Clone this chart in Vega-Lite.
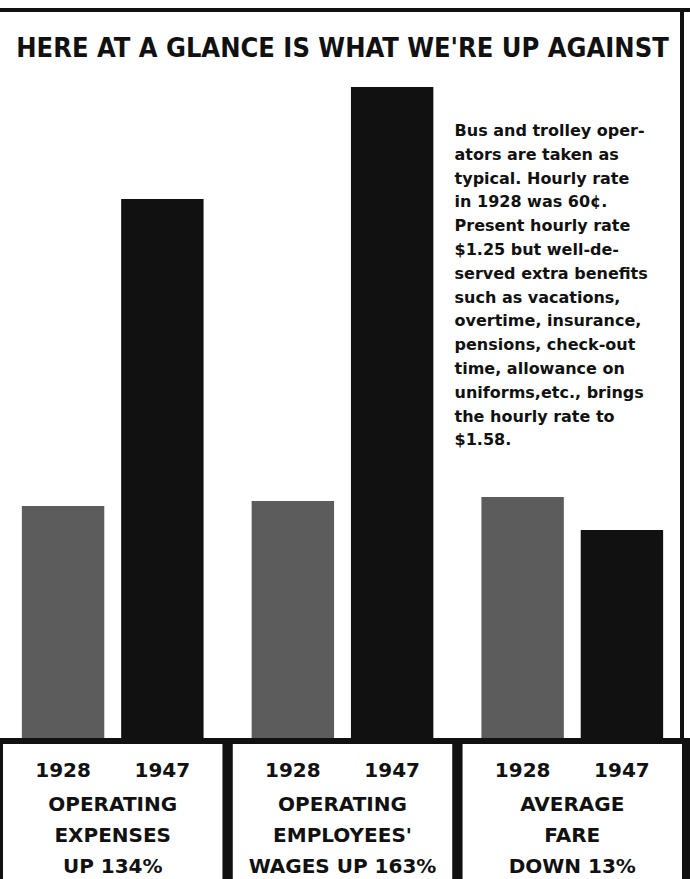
{
  "$schema": "https://vega.github.io/schema/vega-lite/v6.json",
  "width": 690,
  "height": 879,
  "autosize": {"type": "none"},
  "padding": 0,
  "background": "white",
  "config": {"view": {"stroke": null}},
  "datasets": {
    "bars": [
      {"group": "Operating expenses", "year": "1928", "value": 232},
      {"group": "Operating expenses", "year": "1947", "value": 539},
      {"group": "Operating employees' wages", "year": "1928", "value": 237},
      {"group": "Operating employees' wages", "year": "1947", "value": 651},
      {"group": "Average fare", "year": "1928", "value": 241},
      {"group": "Average fare", "year": "1947", "value": 208}
    ],
    "boxes": [
      {"group": "Operating expenses", "lines": ["OPERATING", "EXPENSES", "UP 134%"]},
      {"group": "Operating employees' wages", "lines": ["OPERATING", "EMPLOYEES'", "WAGES UP 163%"]},
      {"group": "Average fare", "lines": ["AVERAGE", "FARE", "DOWN 13%"]}
    ],
    "title": [{"text": "HERE AT A GLANCE IS WHAT WE'RE UP AGAINST"}],
    "note": [{"lines": [
      "Bus and trolley oper-",
      "ators are taken as",
      "typical. Hourly rate",
      "in 1928 was 60¢.",
      "Present hourly rate",
      "$1.25 but well-de-",
      "served extra benefits",
      "such as vacations,",
      "overtime, insurance,",
      "pensions, check-out",
      "time, allowance on",
      "uniforms,etc., brings",
      "the hourly rate to",
      "$1.58."
    ]}]
  },
  "layer": [
    {
      "data": {"name": "title"},
      "mark": {"type": "rect", "color": "#111111"},
      "encoding": {
        "y": {"datum": 0, "type": "quantitative", "scale": {"domain": [-141, 738], "nice": false, "zero": false}, "axis": null},
        "y2": {"datum": -160}
      }
    },
    {
      "data": {"name": "boxes"},
      "mark": {"type": "rect", "color": "white"},
      "encoding": {
        "x": {"field": "group", "type": "nominal", "sort": null, "scale": {"domain": ["Operating expenses", "Operating employees' wages", "Average fare"], "range": [3, 682], "paddingInner": 0.045, "paddingOuter": 0}, "axis": null},
        "y": {"datum": -6, "type": "quantitative"},
        "y2": {"datum": -160}
      }
    },
    {
      "data": {"name": "bars"},
      "mark": {"type": "bar"},
      "encoding": {
        "x": {"field": "group", "type": "nominal", "sort": null, "axis": null},
        "xOffset": {"field": "year", "type": "nominal", "scale": {"paddingInner": 0.17, "paddingOuter": 0.19}},
        "y": {"field": "value", "type": "quantitative"},
        "color": {"field": "year", "type": "nominal", "scale": {"domain": ["1928", "1947"], "range": ["#5c5c5c", "#111111"]}, "legend": null}
      }
    },
    {
      "data": {"name": "bars"},
      "mark": {"type": "text", "font": "DejaVu Sans", "fontWeight": "bold", "fontSize": 20, "align": "center", "baseline": "alphabetic", "color": "#111111"},
      "encoding": {
        "x": {"field": "group", "type": "nominal", "sort": null, "axis": null},
        "xOffset": {"field": "year", "type": "nominal"},
        "y": {"datum": -39, "type": "quantitative"},
        "text": {"field": "year"}
      }
    },
    {
      "data": {"name": "boxes"},
      "mark": {"type": "text", "font": "DejaVu Sans", "fontWeight": "bold", "fontSize": 20, "align": "center", "baseline": "alphabetic", "lineHeight": 31, "color": "#111111"},
      "encoding": {
        "x": {"field": "group", "type": "nominal", "sort": null, "axis": null},
        "y": {"datum": -73, "type": "quantitative"},
        "text": {"field": "lines"}
      }
    },
    {
      "data": {"name": "title"},
      "mark": {"type": "text", "font": "DejaVu Sans Condensed", "fontWeight": "bold", "fontSize": 27, "align": "center", "baseline": "middle", "color": "#111111"},
      "encoding": {
        "x": {"datum": "Operating employees' wages", "type": "nominal"},
        "y": {"datum": 689, "type": "quantitative"},
        "text": {"field": "text"}
      }
    },
    {
      "data": {"name": "note"},
      "mark": {"type": "text", "font": "DejaVu Sans", "fontWeight": "bold", "fontSize": 16, "align": "left", "baseline": "alphabetic", "lineHeight": 23.8, "dx": -8, "color": "#111111"},
      "encoding": {
        "x": {"datum": "Average fare", "type": "nominal", "bandPosition": 0},
        "y": {"datum": 602, "type": "quantitative"},
        "text": {"field": "lines"}
      }
    },
    {
      "data": {"name": "title"},
      "mark": {"type": "rule", "color": "#111111", "strokeWidth": 4},
      "encoding": {
        "y": {"datum": 728, "type": "quantitative"}
      }
    },
    {
      "data": {"name": "title"},
      "mark": {"type": "rule", "color": "#111111", "strokeWidth": 4},
      "encoding": {
        "x": {"datum": "Average fare", "type": "nominal", "bandPosition": 1},
        "y": {"datum": 730, "type": "quantitative"},
        "y2": {"datum": -2}
      }
    }
  ]
}
